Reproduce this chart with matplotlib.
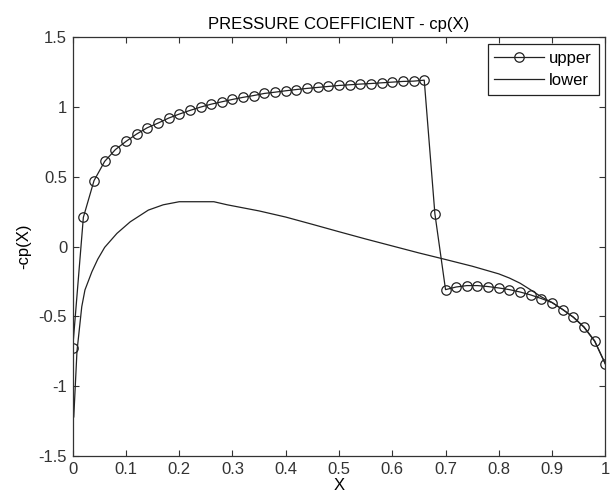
import matplotlib
matplotlib.use('Agg')
import matplotlib.pyplot as plt
import numpy as np

# Superficie superior (pontos a cada 0.02)
x_upper = np.round(np.arange(0, 1.0001, 0.02), 2)
cp_upper = [-0.726, 0.21, 0.473, 0.611, 0.695, 0.754, 0.807, 0.852, 0.885, 0.921,
            0.95, 0.976, 1.0, 1.021, 1.038, 1.055, 1.07, 1.083, 1.098, 1.107,
            1.117, 1.126, 1.134, 1.141, 1.148, 1.155, 1.16, 1.165, 1.169, 1.174,
            1.179, 1.184, 1.186, 1.193, 0.236, -0.308, -0.289, -0.279, -0.279, -0.286,
            -0.296, -0.308, -0.325, -0.346, -0.372, -0.401, -0.451, -0.506, -0.578, -0.678,
            -0.84]

# Superficie inferior
x_lower = [0.002, 0.008, 0.017, 0.023, 0.036, 0.047, 0.06, 0.083, 0.108, 0.142,
           0.17, 0.2, 0.265, 0.29, 0.35, 0.4, 0.45, 0.5, 0.55, 0.6,
           0.65, 0.7, 0.75, 0.8, 0.82, 0.84, 0.86, 0.88, 0.9, 0.92,
           0.94, 0.96, 0.98, 1.0]
cp_lower = [-1.22, -0.75, -0.43, -0.31, -0.18, -0.09, -0.005, 0.095, 0.178, 0.262,
            0.30, 0.322, 0.322, 0.30, 0.256, 0.212, 0.16, 0.107, 0.055, 0.005,
            -0.045, -0.092, -0.14, -0.195, -0.225, -0.262, -0.31, -0.36, -0.4, -0.45,
            -0.505, -0.575, -0.675, -0.84]

plt.rcParams['font.family'] = ['Liberation Sans', 'DejaVu Sans']

fig = plt.figure(figsize=(6.11, 4.95), dpi=100)
ax = fig.add_axes([0.119, 0.0788, 0.8717, 0.8458])

ax.plot(x_upper, cp_upper, '-o', color='#222222', lw=0.9, markersize=6.8,
        markerfacecolor='none', markeredgewidth=0.9, label='upper')
ax.plot(x_lower, cp_lower, '-', color='#222222', lw=0.9, label='lower')

ax.set_xlim(0, 1)
ax.set_ylim(-1.5, 1.5)
ax.set_xticks(np.arange(0, 1.01, 0.1))
ax.set_xticklabels(['0', '0.1', '0.2', '0.3', '0.4', '0.5', '0.6', '0.7', '0.8', '0.9', '1'])
ax.set_yticks([-1.5, -1, -0.5, 0, 0.5, 1, 1.5])
ax.set_yticklabels(['-1.5', '-1', '-0.5', '0', '0.5', '1', '1.5'])
ax.tick_params(direction='in', top=True, right=True, length=4, width=0.8,
               labelsize=12, colors='#333333')
ax.tick_params(axis='x', pad=4)
ax.tick_params(axis='y', pad=4)
for s in ax.spines.values():
    s.set_linewidth(0.9)
    s.set_color('#333333')

ax.set_xlabel('X', fontsize=12, labelpad=1)
ax.set_ylabel('-cp(X)', fontsize=12, labelpad=5)
ax.set_title('PRESSURE COEFFICIENT - cp(X)', fontsize=12, pad=6)

leg = ax.legend(loc='upper right', fontsize=12, fancybox=False, framealpha=1,
                edgecolor='#222222', handlelength=3.0, borderaxespad=0.4,
                handletextpad=0.3, labelspacing=0.45, borderpad=0.4)
leg.get_frame().set_linewidth(0.9)

fig.savefig('out.png', dpi=100)
